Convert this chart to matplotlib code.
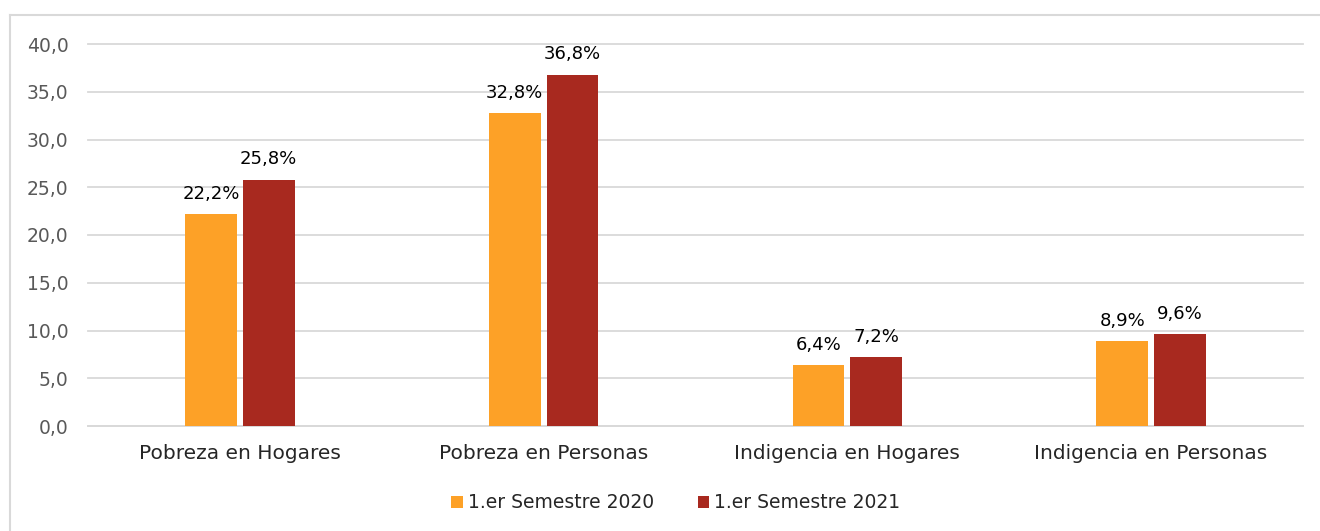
import matplotlib
matplotlib.use("Agg")
import matplotlib.pyplot as plt
import numpy as np
from matplotlib.lines import Line2D

plt.rcParams['font.family'] = ['DejaVu Sans']

categories = ["Pobreza en Hogares", "Pobreza en Personas", "Indigencia en Hogares", "Indigencia en Personas"]
series_names = ["1.er Semestre 2020", "1.er Semestre 2021"]
values_2020 = [22.2, 32.8, 6.4, 8.9]
values_2021 = [25.8, 36.8, 7.2, 9.6]
yticks = [0, 5, 10, 15, 20, 25, 30, 35, 40]

c2020 = "#FDA127"
c2021 = "#A8291F"

fig = plt.figure(figsize=(13.2, 5.31), dpi=100)
ax = fig.add_axes([88/1320, 1 - 426/531, (1303-88)/1320, (426-44)/531])

x = np.arange(len(categories))
w = 0.17
gap = 0.02
b1 = ax.bar(x - (w + gap)/2, values_2020, w, color=c2020, label=series_names[0], zorder=3)
b2 = ax.bar(x + (w + gap)/2, values_2021, w, color=c2021, label=series_names[1], zorder=3)

for bars, vals in ((b1, values_2020), (b2, values_2021)):
    for r, v in zip(bars, vals):
        ax.annotate(f"{v:.1f}%".replace('.', ','), (r.get_x() + r.get_width()/2, v),
                    xytext=(0, 8), textcoords="offset points", ha="center", va="bottom",
                    fontsize=13, color="#000000")

ax.set_xlim(-0.5, len(categories) - 0.5)
ax.set_ylim(0, 40)
ax.set_yticks(yticks)
ax.set_yticklabels([f"{t:.1f}".replace('.', ',') for t in yticks], fontsize=13.5, color="#595959")
ax.set_xticks(x)
ax.set_xticklabels(categories, fontsize=14.5, color="#262626")
ax.tick_params(axis='both', length=0)
ax.tick_params(axis='y', pad=14)
ax.tick_params(axis='x', pad=13)
ax.yaxis.grid(True, color="#D9D9D9", linewidth=1.3, zorder=0)
for gl in ax.get_ygridlines():
    gl.set_clip_on(False)
for s in ("top", "right", "left"):
    ax.spines[s].set_visible(False)
ax.spines["bottom"].set_color("#D9D9D9")
ax.spines["bottom"].set_linewidth(1.3)

leg = fig.legend(handles=[b1, b2], labels=series_names, loc="center", bbox_to_anchor=(676/1320, 1 - 503/531),
                 ncol=2, frameon=False, fontsize=13.5, handlelength=0.6, handleheight=0.6,
                 handletextpad=0.3, columnspacing=2.3)
for t in leg.get_texts():
    t.set_color("#262626")

# outer chart border (top and left visible)
fig.add_artist(Line2D([10/1320, 1.0], [1 - 14.5/531, 1 - 14.5/531], transform=fig.transFigure, color="#D9D9D9", linewidth=1.5))
fig.add_artist(Line2D([10/1320, 10/1320], [0.0, 1 - 14.5/531], transform=fig.transFigure, color="#D9D9D9", linewidth=1.5))

fig.savefig("out.png", dpi=100)
